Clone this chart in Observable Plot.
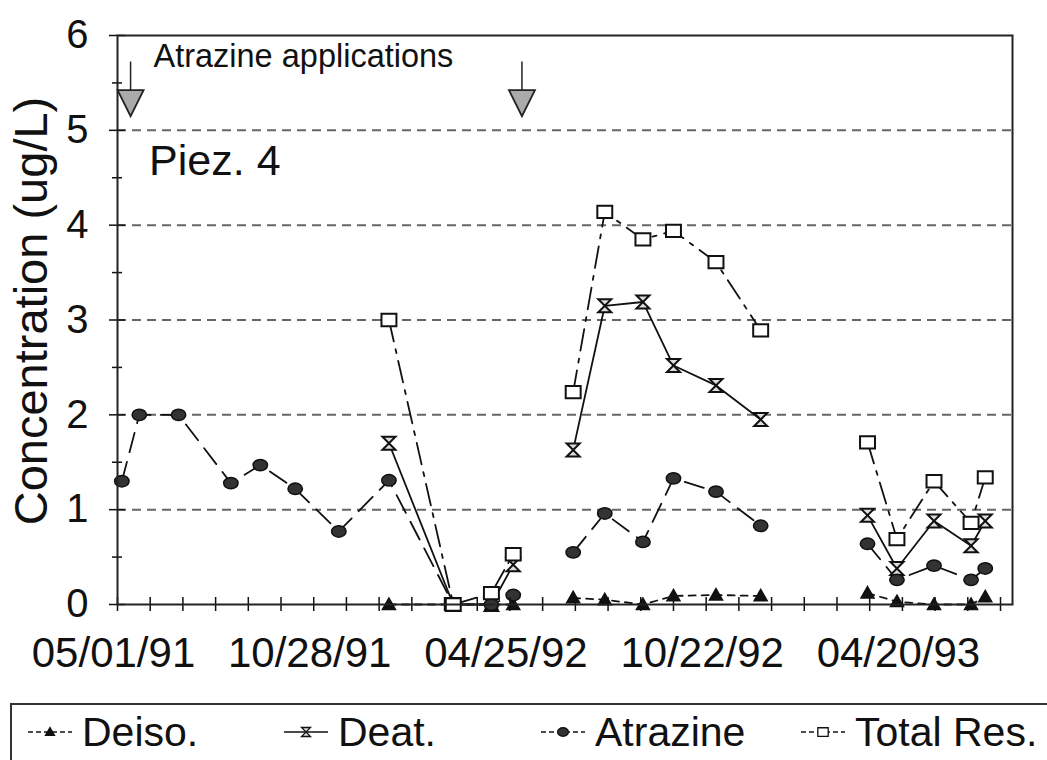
<!DOCTYPE html>
<html><head><meta charset="utf-8">
<script src="https://cdn.jsdelivr.net/npm/d3@7"></script>
<script src="https://cdn.jsdelivr.net/npm/@observablehq/plot@0.6"></script>
<style>
body{margin:0;background:#fff;font-family:"Liberation Sans",Arial,sans-serif;}
#wrap{position:relative;width:1047px;height:760px;overflow:hidden;background:#fff;}
#legend{position:absolute;left:10px;top:703px;width:1100px;height:90px;border:2px solid #333;box-sizing:border-box;}
.item{position:absolute;top:2px;height:50px;display:flex;align-items:center;font-size:41px;color:#111;white-space:nowrap;}
.item svg{margin-right:8px;}
</style></head><body><div id="wrap"><div id="chart"></div><div id="legend"></div></div>
<script>
// ---- data ----
const sampleDates = ["1991-05-05","1991-05-21","1991-06-26","1991-08-13","1991-09-09","1991-10-11","1991-11-20",
  "1992-01-05","1992-03-04","1992-04-08","1992-04-28",
  "1992-06-22","1992-07-21","1992-08-25","1992-09-22","1992-10-31","1992-12-11",
  "1993-03-19","1993-04-15","1993-05-19","1993-06-22","1993-07-05"];
const sampleGroup = [1,1,1,1,1,1,1, 1,1,1,1, 2,2,2,2,2,2, 3,3,3,3,3];
const deiso    = [null,null,null,null,null,null,null, 0,0,0,0, 0.07,0.05,0.0,0.09,0.10,0.09, 0.12,0.03,0.0,0.0,0.08];
const deat     = [null,null,null,null,null,null,null, 1.70,0,0,0.42, 1.63,3.15,3.19,2.52,2.31,1.95, 0.94,0.38,0.88,0.62,0.88];
const atrazine = [1.30,2.00,2.00,1.28,1.47,1.22,0.77, 1.31,0,0,0.10, 0.55,0.96,0.66,1.33,1.19,0.83, 0.64,0.26,0.41,0.26,0.38];
const totalRes = [null,null,null,null,null,null,null, 3.00,0,0.12,0.53, 2.24,4.14,3.85,3.94,3.61,2.89, 1.71,0.69,1.30,0.86,1.34];
const seriesNames = ["Deiso.","Deat.","Atrazine","Total Res."];
const applicationDates = ["1991-05-13","1992-05-06"];
const xLabelDates = ["1991-05-01","1991-10-28","1992-04-25","1992-10-22","1993-04-20"];
const xDomain = ["1991-05-01","1993-07-30"];
const yTicks = [0,1,2,3,4,5,6];
const gridValues = [1,2,3,4,5];
const annotationTitle = "Atrazine applications";
const panelLabel = "Piez. 4";
const yTitle = "Concentration (ug/L)";
// annotation anchors (data coordinates)
const titleAnchor = {date:"1991-06-03", value:5.78};
const panelAnchor = {date:"1991-05-30", value:4.67};
const arrowTop = 5.72, arrowBottom = 5.42, arrowHead = 5.30;

// ---- build ----
const parse = d3.utcParse("%Y-%m-%d");
const dates = sampleDates.map(parse);
const seriesValues = [deiso, deat, atrazine, totalRes];
const rows = [];
seriesNames.forEach((s, k) => seriesValues[k].forEach((v, i) => {
  if (v != null) rows.push({series: s, date: dates[i], value: v, group: s + sampleGroup[i]});
}));
const x0 = parse(xDomain[0]);
const minorTicks = d3.range(0, 28).map(i => d3.utcDay.offset(x0, i * 30));
const halfTicks = d3.range(0.5, 6, 1);

function sym(fn){ return {draw(ctx, size){ fn(ctx, Math.sqrt(size/Math.PI)); }}; }
const triUp = sym((c,r)=>{c.moveTo(0,-r);c.lineTo(r,r*0.75);c.lineTo(-r,r*0.75);c.closePath();});
const hourglass = sym((c,r)=>{c.moveTo(-r,-r);c.lineTo(r,-r);c.lineTo(-r,r);c.lineTo(r,r);c.closePath();});
const ellipse = sym((c,r)=>{const a=r*1.2,b=r*0.95,k=0.5523;
  c.moveTo(a,0);c.bezierCurveTo(a,b*k,a*k,b,0,b);c.bezierCurveTo(-a*k,b,-a,b*k,-a,0);
  c.bezierCurveTo(-a,-b*k,-a*k,-b,0,-b);c.bezierCurveTo(a*k,-b,a,-b*k,a,0);c.closePath();});
const square = sym((c,r)=>{const w=r*1.15,h=r*0.95;c.moveTo(-w,-h);c.lineTo(w,-h);c.lineTo(w,h);c.lineTo(-w,h);c.closePath();});
const triDown = sym((c,r)=>{c.moveTo(-r,-0.9*r);c.lineTo(r,-0.9*r);c.lineTo(0,1.1*r);c.closePath();});

const style = {
  "Deiso.":     {dash:"7,6",          symbol:triUp,     r:6.5, fill:"#111", stroke:"#111", sw:1.5},
  "Deat.":      {dash:null,           symbol:hourglass, r:6.5, fill:"#ddd", stroke:"#111", sw:2},
  "Atrazine":   {dash:"20,10",        symbol:ellipse,   r:6,   fill:"#333", stroke:"#111", sw:1.5},
  "Total Res.": {dash:"22,8,4,8",     symbol:square,    r:6.5, fill:"#fff", stroke:"#111", sw:2}
};

const marks = [
  Plot.ruleY(gridValues, {stroke:"#666", strokeWidth:2, strokeDasharray:"9,6"}),
];
for (const s of seriesNames) {
  const st = style[s];
  const data = rows.filter(d => d.series === s);
  marks.push(Plot.line(data, {x:"date", y:"value", z:"group", stroke:"#111", strokeWidth:1.8, strokeDasharray: st.dash || undefined}));
}
for (const s of seriesNames) {
  const st = style[s];
  const data = rows.filter(d => d.series === s);
  marks.push(Plot.dot(data, {x:"date", y:"value", symbol: st.symbol, r: st.r, fill: st.fill, stroke: st.stroke, strokeWidth: st.sw}));
}
marks.push(
  Plot.ruleX(minorTicks, {x: d=>d, y1:0, y2:0, insetTop:-7, insetBottom:-7, stroke:"#111", strokeWidth:1.5}),
  Plot.ruleY(yTicks, {y: d=>d, x1:x0, x2:x0, insetLeft:-8, insetRight:-8, stroke:"#111", strokeWidth:1.5}),
  Plot.ruleY(halfTicks, {y: d=>d, x1:x0, x2:x0, insetLeft:-5, insetRight:-5, stroke:"#111", strokeWidth:1.5}),
  Plot.frame({stroke:"#222", strokeWidth:2}),
  Plot.ruleX(applicationDates.map(parse), {x:d=>d, y1:arrowTop, y2:arrowBottom, stroke:"#222", strokeWidth:1.5}),
  Plot.dot(applicationDates.map(parse), {x:d=>d, y:arrowHead, symbol:triDown, r:13, fill:"#aaa", stroke:"#222", strokeWidth:1.8}),
  Plot.text([annotationTitle], {x: parse(titleAnchor.date), y: titleAnchor.value, text:d=>d, textAnchor:"start", lineAnchor:"middle", fontSize:32.5, fill:"#111"}),
  Plot.text([panelLabel], {x: parse(panelAnchor.date), y: panelAnchor.value, text:d=>d, textAnchor:"start", lineAnchor:"middle", fontSize:43, fill:"#111"}),
  Plot.text([yTitle], {frameAnchor:"left", text:d=>d, rotate:-90, dx:-86, dy:-9, fontSize:47, fill:"#111", textAnchor:"middle", lineAnchor:"middle"}),
  Plot.axisX(xLabelDates.map(parse), {tickSize:0, tickPadding:33, tickFormat:d3.utcFormat("%m/%d/%y"), fontSize:42, dx:-4, label:null}),
  Plot.axisY(yTicks, {tickSize:0, tickPadding:29, fontSize:40, tickFormat:d3.format("d"), label:null})
);

const chart = Plot.plot({
  width: 1047, height: 700,
  marginLeft: 117, marginRight: 35, marginTop: 35, marginBottom: 96,
  style: {fontFamily: '"Liberation Sans", Arial, sans-serif', color:"#111", background:"#fff"},
  x: {type:"utc", domain: xDomain.map(parse)},
  y: {domain:[0,6]},
  marks
});
document.getElementById("chart").appendChild(chart);

// ---- legend ----
const legend = document.getElementById("legend");
const legendLeft = {"Deiso.":14, "Deat.":270, "Atrazine":527, "Total Res.":787};
for (const s of seriesNames) {
  const st = style[s];
  const item = document.createElement("div");
  item.className = "item";
  item.style.left = legendLeft[s] + "px";
  const sw = d3.create("svg").attr("width", 48).attr("height", 20);
  sw.append("line").attr("x1",2).attr("x2",46).attr("y1",10).attr("y2",10)
    .attr("stroke","#111").attr("stroke-width",1.6).attr("stroke-dasharray", st.dash ? "5,3" : null);
  const p = d3.path(); st.symbol.draw(p, Math.PI * 4.5 * 4.5);
  sw.append("path").attr("d", p.toString()).attr("transform","translate(24,10)")
    .attr("fill", st.fill).attr("stroke", st.stroke).attr("stroke-width",1.3);
  item.appendChild(sw.node());
  const t = document.createElement("span"); t.textContent = s; item.appendChild(t);
  legend.appendChild(item);
}
</script></body></html>
